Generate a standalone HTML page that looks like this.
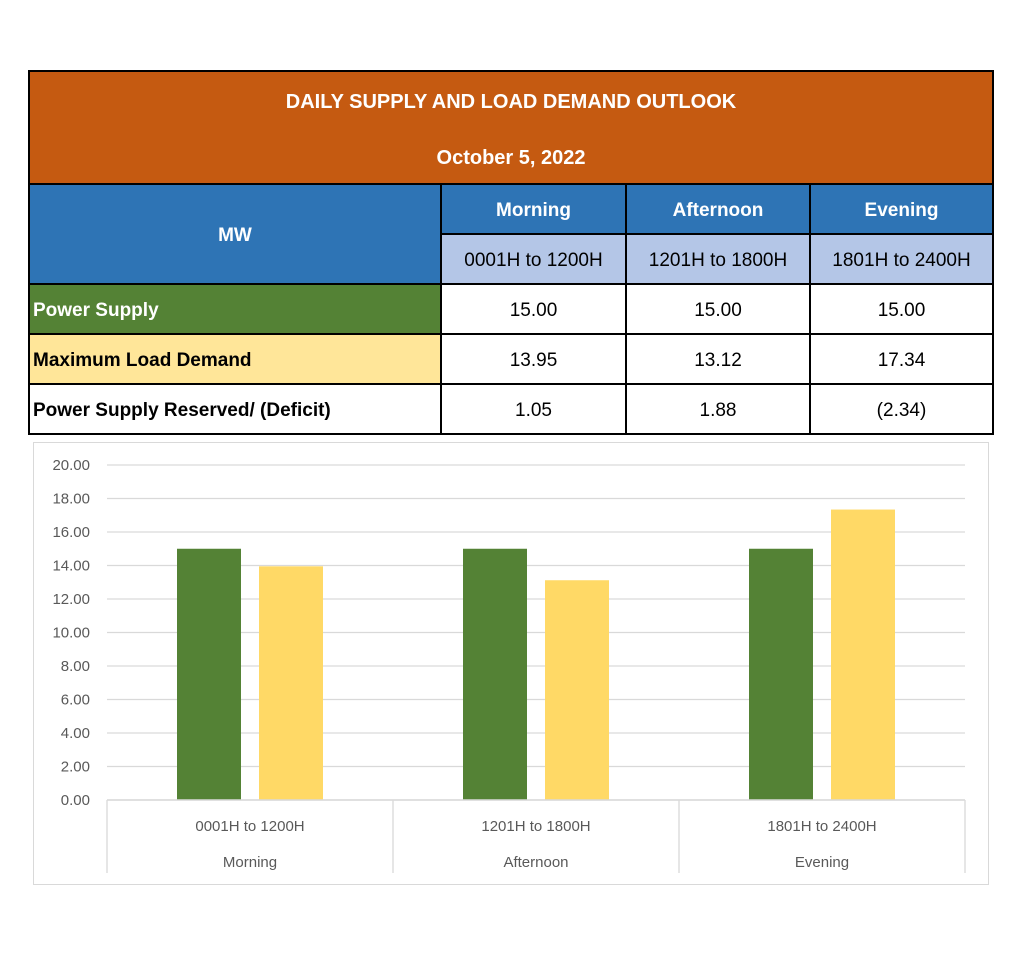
<!DOCTYPE html>
<html><head><meta charset="utf-8"><style>
body{margin:0;width:1024px;height:964px;background:#fff;position:relative;font-family:"Liberation Sans",sans-serif;overflow:hidden}
.c{position:absolute;box-sizing:border-box;display:flex;align-items:center;justify-content:center;font-size:19px;color:#000;padding-top:3px}
.b{font-weight:bold}
</style></head><body>
<div style="position:absolute;left:28px;top:70px;width:966px;height:365px;border:2px solid #000;box-sizing:border-box;background:#000"></div>
<div style="position:absolute;left:30px;top:72px;width:962px;height:111px;background:#c55a11;color:#fff;font-weight:bold;font-size:20px;text-align:center">
<div style="position:absolute;left:0;right:0;top:19px">DAILY SUPPLY AND LOAD DEMAND OUTLOOK</div>
<div style="position:absolute;left:0;right:0;top:75px">October 5, 2022</div></div>
<div class="c b" style="left:30px;top:185px;width:410px;height:98px;background:#2e74b5;color:#fff">MW</div>
<div class="c b" style="left:442px;top:185px;width:183px;height:48px;background:#2e74b5;color:#fff">Morning</div>
<div class="c b" style="left:627px;top:185px;width:182px;height:48px;background:#2e74b5;color:#fff">Afternoon</div>
<div class="c b" style="left:811px;top:185px;width:181px;height:48px;background:#2e74b5;color:#fff">Evening</div>
<div class="c" style="left:442px;top:235px;width:183px;height:48px;background:#b4c6e7">0001H to 1200H</div>
<div class="c" style="left:627px;top:235px;width:182px;height:48px;background:#b4c6e7">1201H to 1800H</div>
<div class="c" style="left:811px;top:235px;width:181px;height:48px;background:#b4c6e7">1801H to 2400H</div>
<div class="c b" style="left:30px;top:285px;width:410px;height:48px;background:#548235;color:#fff;justify-content:flex-start;padding-left:3px">Power Supply</div>
<div class="c b" style="left:30px;top:335px;width:410px;height:48px;background:#ffe699;justify-content:flex-start;padding-left:3px">Maximum Load Demand</div>
<div class="c b" style="left:30px;top:385px;width:410px;height:48px;background:#fff;justify-content:flex-start;padding-left:3px">Power Supply Reserved/ (Deficit)</div>
<div class="c" style="left:442px;top:285px;width:183px;height:48px;background:#fff">15.00</div>
<div class="c" style="left:627px;top:285px;width:182px;height:48px;background:#fff">15.00</div>
<div class="c" style="left:811px;top:285px;width:181px;height:48px;background:#fff">15.00</div>
<div class="c" style="left:442px;top:335px;width:183px;height:48px;background:#fff">13.95</div>
<div class="c" style="left:627px;top:335px;width:182px;height:48px;background:#fff">13.12</div>
<div class="c" style="left:811px;top:335px;width:181px;height:48px;background:#fff">17.34</div>
<div class="c" style="left:442px;top:385px;width:183px;height:48px;background:#fff">1.05</div>
<div class="c" style="left:627px;top:385px;width:182px;height:48px;background:#fff">1.88</div>
<div class="c" style="left:811px;top:385px;width:181px;height:48px;background:#fff">(2.34)</div>

<svg id="chart" style="position:absolute;left:0;top:0" width="1024" height="964" font-family="Liberation Sans, sans-serif">
<rect x="33.5" y="442.5" width="955" height="442" fill="#fff" stroke="#d9d9d9"/>
</svg>
<script>
const categories=["0001H to 1200H","1201H to 1800H","1801H to 2400H"];
const groups=["Morning","Afternoon","Evening"];
const supply=[15.00,15.00,15.00];
const demand=[13.95,13.12,17.34];
const ticks=[0,2,4,6,8,10,12,14,16,18,20];
const svg=document.getElementById('chart');
const NS='http://www.w3.org/2000/svg';
const x0=107,x1=965,y0=800,y1=465,ymax=20;
const y=v=>y0-(v/ymax)*(y0-y1);
const cw=(x1-x0)/categories.length;
function mk(t,a,txt){const e=document.createElementNS(NS,t);for(const k in a)e.setAttribute(k,a[k]);if(txt!==undefined)e.textContent=txt;svg.appendChild(e);return e;}
ticks.forEach(t=>{
  const l=mk('line',{x1:x0,x2:x1,y1:y(t),y2:y(t),stroke:'#d9d9d9','stroke-width':1.3});
  
  
  const tx=mk('text',{x:90,y:y(t)+5,'text-anchor':'end','font-size':15,fill:'#595959'},t.toFixed(2));
  
  
});
categories.forEach((c,i)=>{
  const cx=x0+cw*(i+0.5);
  const g=mk('rect',{x:cx-73,y:y(supply[i]),width:64,height:y0-y(supply[i]),fill:'#548235'});
  
  
  const d=mk('rect',{x:cx+9,y:y(demand[i]),width:64,height:y0-y(demand[i]),fill:'#ffd966'});
  
  
  const t1=mk('text',{x:cx,y:831,'text-anchor':'middle','font-size':15,fill:'#595959'},c);
  
  
  const t2=mk('text',{x:cx,y:867,'text-anchor':'middle','font-size':15,fill:'#595959'},groups[i]);
  
  
});
for(let i=0;i<=categories.length;i++){
  const xx=x0+cw*i;
  const l=mk('line',{x1:xx,x2:xx,y1:y0,y2:873,stroke:'#d9d9d9','stroke-width':1.3});
  
  
}
const ax=mk('line',{x1:x0,x2:x1,y1:y0,y2:y0,stroke:'#d9d9d9','stroke-width':1.5});


</script>
</body></html>
